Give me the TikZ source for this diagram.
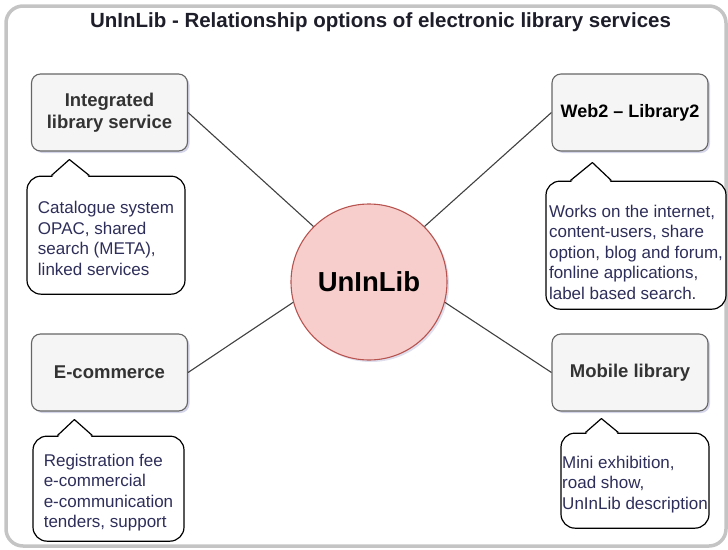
\documentclass[tikz,border=0pt]{standalone}
\usepackage{fontspec}
\setmainfont{Liberation Sans}
\usetikzlibrary{positioning, shadows}

\definecolor{boxfill}{HTML}{F5F5F5}
\definecolor{boxline}{HTML}{666666}
\definecolor{hubfill}{HTML}{F8CECC}
\definecolor{hubline}{HTML}{B85450}
\definecolor{frameline}{HTML}{C4C4C4}
\definecolor{notetext}{HTML}{2E2E5A}
\definecolor{titletext}{HTML}{1E1E2A}

% pointer of a speech bubble: node, base left, tip x, base right, tip height
\newcommand{\notetip}[5]{%
  \fill[white] ([xshift=#2pt+0.7pt,yshift=-1.5pt]#1.north west) -- ([xshift=#3pt,yshift=#5pt]#1.north west) -- ([xshift=#4pt-0.7pt,yshift=-1.5pt]#1.north west) -- cycle;
  \draw[tipline] ([xshift=#2pt]#1.north west) -- ([xshift=#3pt,yshift=#5pt]#1.north west) -- ([xshift=#4pt]#1.north west);}
% lowers the text of a bubble a little
\newcommand{\notelift}[1]{\rule{0pt}{#1}}

\begin{document}
\begin{tikzpicture}[
    x=1pt, y=-1pt,
    node distance=24pt,
    service/.style={rectangle, draw=boxline, line width=1.1pt, fill=boxfill, rounded corners=9pt, minimum width=156pt, minimum height=77pt, align=center, text=black!80, font=\fontsize{18.5}{21.5}\selectfont\bfseries, drop shadow={shadow xshift=2pt, shadow yshift=-2pt, opacity=0.25, fill=blue!30!gray}},
    hubnode/.style={circle, draw=hubline, line width=1.1pt, fill=hubfill, minimum size=156pt, inner sep=0pt, font=\fontsize{27.5}{30}\selectfont\bfseries, drop shadow={shadow xshift=2pt, shadow yshift=-2pt, opacity=0.2, fill=blue!30!gray}},
    bubble/.style={rectangle, draw=black, line width=1.2pt, fill=white, rounded corners=14pt, inner sep=0pt, align=left, text=notetext, font=\fontsize{17}{20.5}\selectfont},
    tipline/.style={draw=black, line width=1.2pt, line join=round},
    link/.style={draw=black!75, line width=1.1pt}
]
\useasboundingbox (0,0) rectangle (728,549);

% Frame and title
\draw[frameline, line width=3.5pt, rounded corners=17pt] (6,6) rectangle (726,546);
\node[font=\fontsize{20.5}{24}\selectfont\bfseries, text=titletext] (title) at (380.5,22) {UnInLib - Relationship options of electronic library services};

% Hub
\node[hubnode] (hub) at (369,282) {UnInLib};

% Services
\node[service] (ils) at (109.5,112.5) {Integrated\\library service};
\node[service, text=black, font=\fontsize{18}{21}\selectfont\bfseries] (web) at (630,112.5) {Web2 – Library2};
\node[service] (ecom) at (109.5,372.5) {E-commerce};
\node[service] (mobile) at (630,372.5) {Mobile library};

% Notes
\node[bubble, below=24pt of ils, xshift=-3.5pt, minimum width=158pt, minimum height=118pt] (ilsnote) {\notelift{19pt}Catalogue system\\OPAC, shared\\search (META),\\linked services};
\node[bubble, below=29pt of web, xshift=6pt, minimum width=180pt, minimum height=128pt] (webnote) {\notelift{26pt}Works on the internet,\\content-users, share\\option, blog and forum,\\fonline applications,\\label based search.};
\node[bubble, below=24pt of ecom, xshift=-1pt, minimum width=151pt, minimum height=105pt] (ecomnote) {\notelift{20pt}Registration fee\\e-commercial\\e-communication\\tenders, support};
\node[bubble, below=21pt of mobile, xshift=5pt, minimum width=148pt, minimum height=95pt] (mobilenote) {\notelift{20pt}Mini exhibition,\\road show,\\UnInLib description};

% Pointers
\notetip{ilsnote}{25}{43}{63}{16}
\notetip{webnote}{25}{47}{66}{18}
\notetip{ecomnote}{25}{42}{60}{16}
\notetip{mobilenote}{25}{41}{58}{14}

% Links
\draw[link] (ils.east) -- (hub.135);
\draw[link] (web.west) -- (hub.45);
\draw[link] (ecom.east) -- (hub.195);
\draw[link] (mobile.west) -- (hub.-15);

\end{tikzpicture}
\end{document}
